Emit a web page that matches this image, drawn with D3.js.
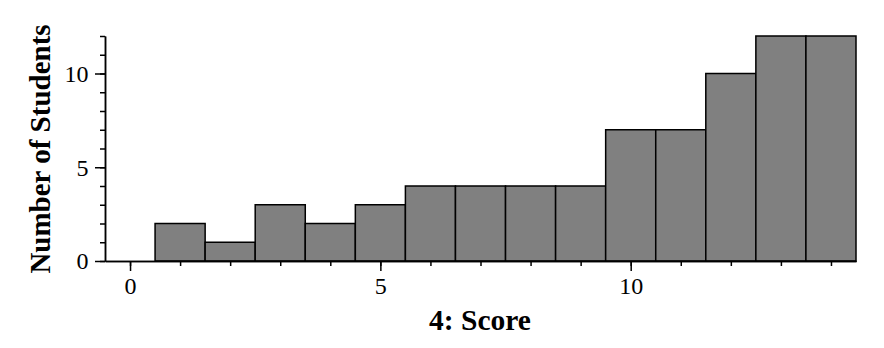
<!DOCTYPE html>
<html><head><meta charset="utf-8">
<script src="https://cdn.jsdelivr.net/npm/d3@7"></script>
<style>body{margin:0;background:#fff;}svg{display:block;}</style>
</head><body>
<script>
const scores = [0,1,2,3,4,5,6,7,8,9,10,11,12,13,14];
const counts = [0,2,1,3,2,3,4,4,4,4,7,7,10,12,12];
const xMajorTicks = [0,5,10];
const yMajorTicks = [0,5,10];
const xLabel = "4: Score";
const yLabel = "Number of Students";

const W=884,H=348;
const svg=d3.select("body").append("svg").attr("width",W).attr("height",H);
const x=d3.scaleLinear().domain([-0.5,14.5]).range([105,856]);
const y=d3.scaleLinear().domain([0,12]).range([261,36]);
const font="'Liberation Serif','Times New Roman',serif";

svg.append("g").selectAll("rect").data(scores.map((s,i)=>({s,c:counts[i]})).filter(d=>d.c>0))
 .join("rect")
 .attr("x",d=>x(d.s-0.5)).attr("width",d=>x(d.s+0.5)-x(d.s-0.5))
 .attr("y",d=>y(d.c)).attr("height",d=>y(0)-y(d.c))
 .attr("fill","#808080").attr("stroke","#000").attr("stroke-width",1.5);

// x axis
const gx=svg.append("g").attr("transform",`translate(0,${y(0)})`);
gx.call(d3.axisBottom(x).tickValues(scores).tickSize(5).tickFormat("").tickSizeOuter(0));
gx.append("g").call(d3.axisBottom(x).tickValues(xMajorTicks).tickSize(10).tickFormat(d3.format("d")).tickSizeOuter(0));
// y axis
const gy=svg.append("g").attr("transform",`translate(${x(-0.5)},0)`);
gy.call(d3.axisLeft(y).tickValues(d3.range(0,13)).tickSize(5).tickFormat("").tickSizeOuter(0));
gy.append("g").call(d3.axisLeft(y).tickValues(yMajorTicks).tickSize(10).tickFormat(d3.format("d")).tickSizeOuter(0));

svg.selectAll(".domain").attr("stroke","#000").attr("stroke-width",1.5);
svg.selectAll(".tick line").attr("stroke","#000").attr("stroke-width",1.5);
svg.selectAll(".tick text").attr("font-family",font).attr("font-size",24).attr("fill","#000");
gx.selectAll(".tick text").attr("dy","0.83em");
gy.selectAll(".tick text").attr("dx","-0.15em").attr("dy","0.33em");

svg.append("text").attr("x",480).attr("y",330).attr("text-anchor","middle")
 .attr("font-family",font).attr("font-weight","bold").attr("font-size",29.5).text(xLabel);
svg.append("text").attr("transform","translate(50,149) rotate(-90)").attr("text-anchor","middle")
 .attr("font-family",font).attr("font-weight","bold").attr("font-size",29).text(yLabel);
</script>
</body></html>
